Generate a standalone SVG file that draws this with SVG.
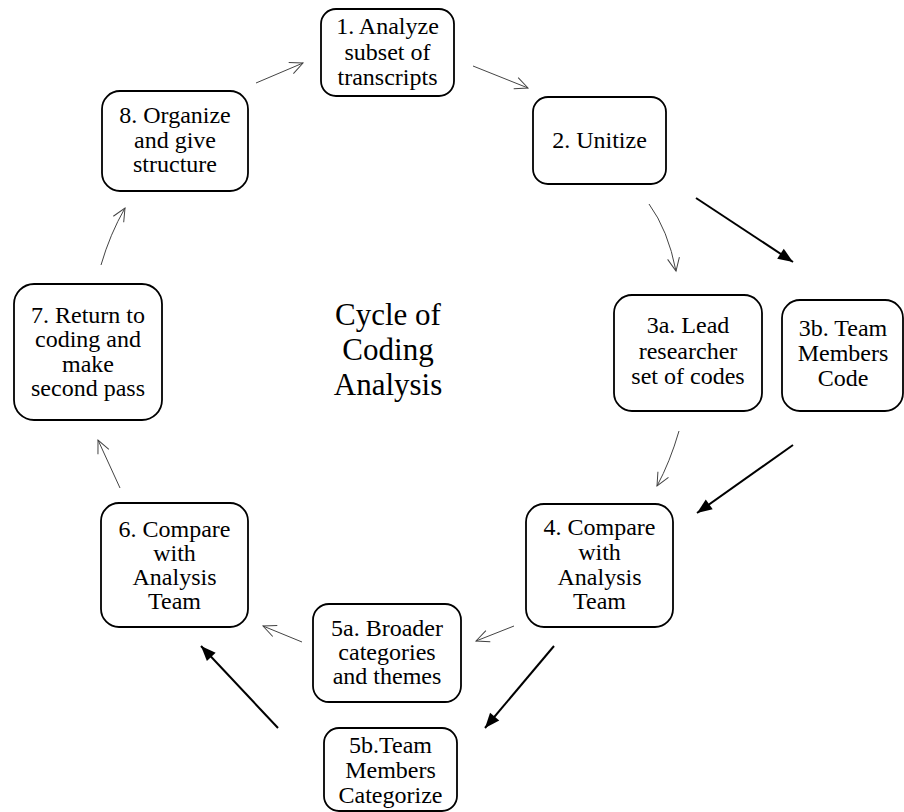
<svg xmlns="http://www.w3.org/2000/svg" width="904" height="812" viewBox="0 0 904 812">
  <style>
    .box { fill: #ffffff; stroke: #000000; stroke-width: 1.8; }
    .lbl { font-family: "Liberation Serif", "Times New Roman", serif; font-size: 24px; fill: #000000; text-anchor: middle; }
    .title { font-family: "Liberation Serif", "Times New Roman", serif; font-size: 31px; fill: #000000; text-anchor: middle; }
    .thin { fill: none; stroke: #444444; stroke-width: 1; marker-end: url(#open); }
    .bold { fill: none; stroke: #000000; stroke-width: 2; marker-end: url(#solid); }
  </style>
  <defs>
    <marker id="open" markerUnits="userSpaceOnUse" markerWidth="16" markerHeight="14" refX="13" refY="6" orient="auto" overflow="visible">
      <path d="M0,0 L13,6 L0,12" fill="none" stroke="#444444" stroke-width="1"/>
    </marker>
    <marker id="solid" markerUnits="userSpaceOnUse" markerWidth="16" markerHeight="14" refX="15" refY="6" orient="auto" overflow="visible">
      <path d="M0,0 L15,6 L0,12 Z" fill="#000000"/>
    </marker>
  </defs>
  <rect width="904" height="812" fill="#ffffff"/>

  <!-- connectors -->
  <g id="connectors">
    <path class="thin" d="M256,83 L303,63"/>
    <path class="thin" d="M473,66 L528,88"/>
    <path class="thin" d="M649,204 Q668,230 676,271"/>
    <path class="bold" d="M696,198 L793,262"/>
    <path class="thin" d="M679,431 Q670,462 657,486"/>
    <path class="bold" d="M793,445 L697,513"/>
    <path class="thin" d="M514,626 L476,641"/>
    <path class="bold" d="M554,646 L485,728"/>
    <path class="thin" d="M302,642 L263,626"/>
    <path class="bold" d="M278,728 L201,646"/>
    <path class="thin" d="M120,488 L98,440"/>
    <path class="thin" d="M101,265 Q110,234 125,208"/>
  </g>

  <!-- centre title -->
  <g id="title">
    <text class="title" x="388" y="325">Cycle of</text>
    <text class="title" x="388" y="360">Coding</text>
    <text class="title" x="388" y="395">Analysis</text>
  </g>

  <g id="n1">
    <rect class="box" x="321" y="9" width="133" height="87" rx="15"/>
    <text class="lbl" x="387.5" y="34">1. Analyze</text>
    <text class="lbl" x="387.5" y="60">subset of</text>
    <text class="lbl" x="387.5" y="85">transcripts</text>
  </g>

  <g id="n2">
    <rect class="box" x="533" y="97" width="133" height="87" rx="15"/>
    <text class="lbl" x="599.5" y="148">2. Unitize</text>
  </g>

  <g id="n3a">
    <rect class="box" x="614" y="295" width="148" height="116" rx="18"/>
    <text class="lbl" x="688" y="333">3a. Lead</text>
    <text class="lbl" x="688" y="359">researcher</text>
    <text class="lbl" x="688" y="384">set of codes</text>
  </g>

  <g id="n3b">
    <rect class="box" x="782" y="300" width="121" height="111" rx="18"/>
    <text class="lbl" x="843" y="336">3b. Team</text>
    <text class="lbl" x="843" y="361">Members</text>
    <text class="lbl" x="843" y="386">Code</text>
  </g>

  <g id="n4">
    <rect class="box" x="526" y="504" width="147" height="123" rx="18"/>
    <text class="lbl" x="599.5" y="535">4. Compare</text>
    <text class="lbl" x="599.5" y="560">with</text>
    <text class="lbl" x="599.5" y="585">Analysis</text>
    <text class="lbl" x="599.5" y="609">Team</text>
  </g>

  <g id="n5a">
    <rect class="box" x="313" y="604" width="148" height="98" rx="16"/>
    <text class="lbl" x="387" y="636">5a. Broader</text>
    <text class="lbl" x="387" y="660">categories</text>
    <text class="lbl" x="387" y="684">and themes</text>
  </g>

  <g id="n5b">
    <rect class="box" x="324" y="728" width="133" height="83" rx="15"/>
    <text class="lbl" x="390.5" y="753">5b.Team</text>
    <text class="lbl" x="390.5" y="778">Members</text>
    <text class="lbl" x="390.5" y="803">Categorize</text>
  </g>

  <g id="n6">
    <rect class="box" x="101" y="503" width="147" height="124" rx="18"/>
    <text class="lbl" x="174.5" y="537">6. Compare</text>
    <text class="lbl" x="174.5" y="561">with</text>
    <text class="lbl" x="174.5" y="585">Analysis</text>
    <text class="lbl" x="174.5" y="609">Team</text>
  </g>

  <g id="n7">
    <rect class="box" x="14" y="284" width="148" height="136" rx="20"/>
    <text class="lbl" x="88" y="323">7. Return to</text>
    <text class="lbl" x="88" y="347">coding and</text>
    <text class="lbl" x="88" y="372">make</text>
    <text class="lbl" x="88" y="396">second pass</text>
  </g>

  <g id="n8">
    <rect class="box" x="102" y="91" width="146" height="100" rx="18"/>
    <text class="lbl" x="175" y="123">8. Organize</text>
    <text class="lbl" x="175" y="148">and give</text>
    <text class="lbl" x="175" y="172">structure</text>
  </g>
</svg>
